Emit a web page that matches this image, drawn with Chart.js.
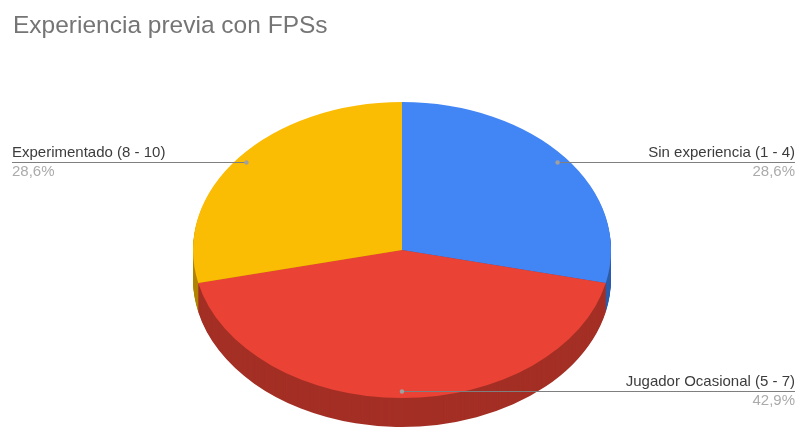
<!DOCTYPE html>
<html><head><meta charset="utf-8">
<style>html,body{margin:0;padding:0;background:#fff}canvas{display:block}</style>
<script src="https://cdn.jsdelivr.net/npm/chart.js@4"></script></head>
<body><div style="width:796px;height:427px"><canvas id="c" width="796" height="427"></canvas></div>
<script>
const chartTitle = 'Experiencia previa con FPSs';
const categories = ['Sin experiencia (1 - 4)', 'Jugador Ocasional (5 - 7)', 'Experimentado (8 - 10)'];
const values = [2, 3, 2];
const topColors = ['#4285f4', '#ea4335', '#fbbc04'];
const sideColors = ['#2e5dab', '#a42f25', '#b08403'];
const labelSides = ['right', 'right', 'left'];

const TILT = 0.708, DEPTH = 29, LABEL_FONT = '15px "Liberation Sans", Arial, sans-serif';
const fmtPct = v => (v / values.reduce((a, b) => a + b, 0) * 100).toFixed(1).replace('.', ',') + '%';

const tilt3d = {
  id: 'tilt3d',
  beforeDatasetsDraw(chart) {
    const ctx = chart.ctx, arcs = chart.getDatasetMeta(0).data;
    const cy = arcs[0].y;
    for (let d = DEPTH; d >= 1; d--) {
      [0, 2, 1].forEach(i => {
        const a = arcs[i];
        ctx.save();
        ctx.translate(0, cy + d);
        ctx.scale(1, TILT);
        ctx.beginPath();
        ctx.moveTo(a.x, 0);
        ctx.arc(a.x, 0, a.outerRadius, a.startAngle, a.endAngle);
        ctx.closePath();
        ctx.fillStyle = sideColors[i];
        ctx.fill();
        ctx.restore();
      });
    }
    ctx.save();
    ctx.translate(0, cy);
    ctx.scale(1, TILT);
    ctx.translate(0, -cy);
  },
  afterDatasetsDraw(chart) {
    const ctx = chart.ctx;
    ctx.restore();
    const arcs = chart.getDatasetMeta(0).data;
    arcs.forEach((a, i) => {
      const mid = (a.startAngle + a.endAngle) / 2;
      const px = a.x + Math.cos(mid) * a.outerRadius * 0.952;
      const py = Math.round(a.y + Math.sin(mid) * a.outerRadius * 0.952 * TILT);
      const right = labelSides[i] === 'right';
      const edge = right ? chart.width - 1 : 12;
      ctx.save();
      ctx.strokeStyle = '#7f7f7f';
      ctx.lineWidth = 1;
      ctx.beginPath();
      ctx.moveTo(px, py + 0.5);
      ctx.lineTo(edge, py + 0.5);
      ctx.stroke();
      ctx.fillStyle = '#a0a0a0';
      ctx.beginPath();
      ctx.arc(px, py + 0.5, 2.2, 0, Math.PI * 2);
      ctx.fill();
      ctx.font = LABEL_FONT;
      ctx.textAlign = right ? 'right' : 'left';
      ctx.textBaseline = 'alphabetic';
      ctx.fillStyle = '#3c3c3c';
      ctx.fillText(categories[i], edge, py - 5);
      ctx.fillStyle = '#ababab';
      ctx.fillText(fmtPct(values[i]), edge, py + 14);
      ctx.restore();
    });
  }
};

new Chart(document.getElementById('c'), {
  type: 'pie',
  data: { labels: categories, datasets: [{ data: values, backgroundColor: topColors, borderWidth: 0 }] },
  options: {
    responsive: false, animation: false, events: [],
    radius: 209,
    layout: { padding: { left: 13, right: 5, top: 0, bottom: 0 } },
    plugins: {
      legend: { display: false }, tooltip: { enabled: false },
      title: {
        display: true, text: chartTitle, align: 'start', color: '#757575',
        font: { family: '"Liberation Sans", Arial, sans-serif', size: 24.5, weight: 'normal' },
        padding: { top: 12, bottom: 31.6 }
      }
    }
  },
  plugins: [tilt3d]
});
</script></body></html>
